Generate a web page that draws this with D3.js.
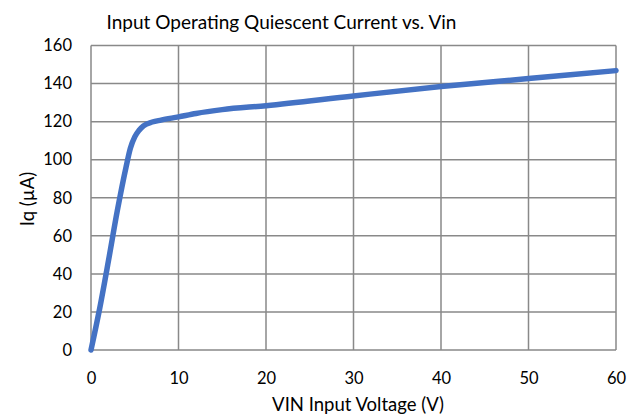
<!DOCTYPE html>
<html>
<head>
<meta charset="utf-8">
<script src="https://cdn.jsdelivr.net/npm/d3@7"></script>
<style>
  html, body { margin: 0; padding: 0; background: #fff; }
  svg { display: block; font-family: Lato, "Open Sans", sans-serif; }
</style>
</head>
<body>
<svg id="chart" width="628" height="419"></svg>
<script>
const vin = [0, 1, 2, 3, 4, 4.5, 5, 5.5, 6, 7, 8, 10, 12, 15, 20, 30, 40, 50, 60];
const iq  = [0, 22, 47, 73, 96, 106, 112, 115.5, 117.8, 119.8, 120.8, 122.5, 124.3, 126.3, 128.4, 133.5, 138.4, 142.6, 146.8];
const xTicks = [0, 10, 20, 30, 40, 50, 60];
const yTicks = [0, 20, 40, 60, 80, 100, 120, 140, 160];
const titleText = "Input Operating Quiescent Current vs. Vin";
const xTitle = "VIN Input Voltage (V)";
const yTitle = "Iq (µA)";

(function () {
const svg = d3.select("#chart");
const mLeft = 91, mRight = 616, mTop = 45.5, mBottom = 350;

const x = d3.scaleLinear().domain([0, 60]).range([mLeft, mRight]);
const y = d3.scaleLinear().domain([0, 160]).range([mBottom, mTop]);

const gridColor = "#898989";

const g = svg.append("g");
g.selectAll(".hg").data(yTicks).enter().append("line")
  .attr("x1", mLeft).attr("x2", mRight)
  .attr("y1", d => y(d)).attr("y2", d => y(d))
  .attr("stroke", gridColor).attr("stroke-width", 1.5);
g.selectAll(".vg").data(xTicks).enter().append("line")
  .attr("y1", mTop).attr("y2", mBottom)
  .attr("x1", d => x(d)).attr("x2", d => x(d))
  .attr("stroke", gridColor).attr("stroke-width", 1.5);

const xAxis = svg.append("g").attr("transform", `translate(0,${mBottom})`)
  .call(d3.axisBottom(x).tickValues(xTicks).tickSize(0).tickPadding(22));
xAxis.select(".domain").remove();
xAxis.selectAll("text").attr("font-size", 16.5).attr("fill", "#000").attr("font-family", "Lato, sans-serif");

const yAxis = svg.append("g").attr("transform", `translate(${mLeft},0)`)
  .call(d3.axisLeft(y).tickValues(yTicks).tickSize(0).tickPadding(19));
yAxis.select(".domain").remove();
yAxis.selectAll("text").attr("font-size", 16.5).attr("fill", "#000").attr("font-family", "Lato, sans-serif");

const line = d3.line()
  .x((d, i) => x(vin[i]))
  .y(d => y(d))
  .curve(d3.curveMonotoneX);
svg.append("path")
  .attr("d", line(iq))
  .attr("fill", "none")
  .attr("stroke", "#4472C4")
  .attr("stroke-width", 5.5)
  .attr("stroke-linecap", "round")
  .attr("stroke-linejoin", "round");

svg.append("text").attr("x", 281.5).attr("y", 28.5)
  .attr("text-anchor", "middle").attr("font-size", 19).attr("fill", "#000")
  .text(titleText);
svg.append("text").attr("x", 358).attr("y", 411)
  .attr("text-anchor", "middle").attr("font-size", 18.5).attr("fill", "#000")
  .text(xTitle);
svg.append("text")
  .attr("transform", "translate(34,199) rotate(-90)")
  .attr("text-anchor", "middle").attr("font-size", 18.5).attr("fill", "#000")
  .text(yTitle);
})();
</script>
</body>
</html>
